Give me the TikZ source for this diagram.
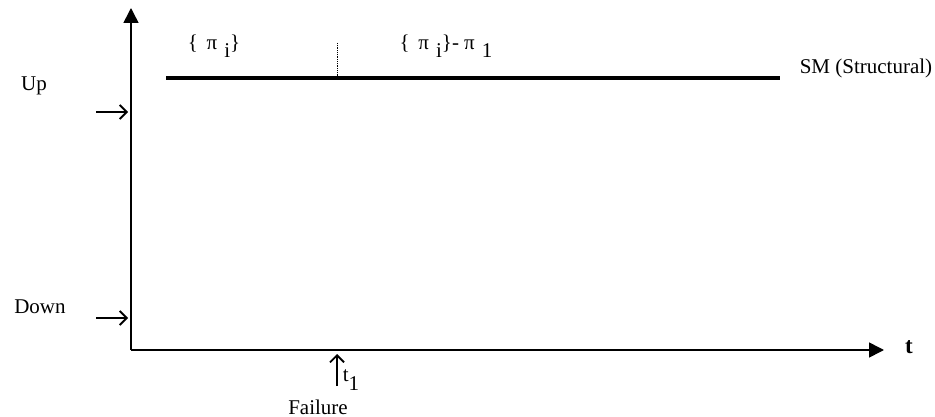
\documentclass[tikz,border=0pt]{standalone}
\usepackage{fontspec}
\setmainfont{Liberation Serif}
\usetikzlibrary{arrows.meta,positioning}
\tikzset{
   label text/.style={ inner sep=0pt, font=\fontsize{21}{24}\selectfont},
   axis/.style={ line width=1.6pt, -{Triangle[length=15pt,width=15pt]}},
   marker/.style={ line width=1.8pt, -{Straight Barb[length=7pt,width=14pt]}},
   state line/.style={ line width=4.5pt},
}

\begin{document}
\begin{tikzpicture}[x=1pt,y=-1pt]
  \useasboundingbox (0,0) rectangle (935,417);

  \coordinate (origin) at (131,350);
  \coordinate (y end)  at (131,8);
  \coordinate (x end)  at (884,350);

  \coordinate (sm start) at (166,78);
  \coordinate (sm end)   at (780,78);
  \coordinate (split top) at (337,43);
  \coordinate (split bot) at (337,76);

  \coordinate (up from)   at (96,112);
  \coordinate (up to)     at (128,112);
  \coordinate (down from) at (96,318);
  \coordinate (down to)   at (128,318);
  \coordinate (fail from) at (337,386);
  \coordinate (fail to)   at (337,354);

  %%%%%%%%%%%

  \node[label text, font=\fontsize{23}{26}\selectfont\bfseries] at (909,347) (t axis) {t};
  \node[label text] at (866,68)  (sm)      {SM (Structural)};
  \node[label text] at (34,86)   (up)      {Up};
  \node[label text] at (40,307)  (down)    {Down};
  \node[label text] at (318,407) (failure) {Failure};
  \node[label text] at (351,380) (t one)   {t\raisebox{-0.4em}{1}};
  \node[label text] at (214,46)  (all pi)  {\{\, π\,\,\raisebox{-0.4em}{i}\}};
  \node[label text] at (446,46)  (less pi) {\{\, π\,\,\raisebox{-0.4em}{i}\}- π\,\,\raisebox{-0.4em}{1}};

  %%%%%%%%%%%

  \draw[axis] (origin) -- (y end);
  \draw[axis] (origin) -- (x end);

  \draw[state line] (sm start) -- (sm end);
  \draw[densely dotted, thick] (split top) -- (split bot);

  \draw[marker] (up from) -- (up to);
  \draw[marker] (down from) -- (down to);
  \draw[marker] (fail from) -- (fail to);

\end{tikzpicture}
\end{document}
